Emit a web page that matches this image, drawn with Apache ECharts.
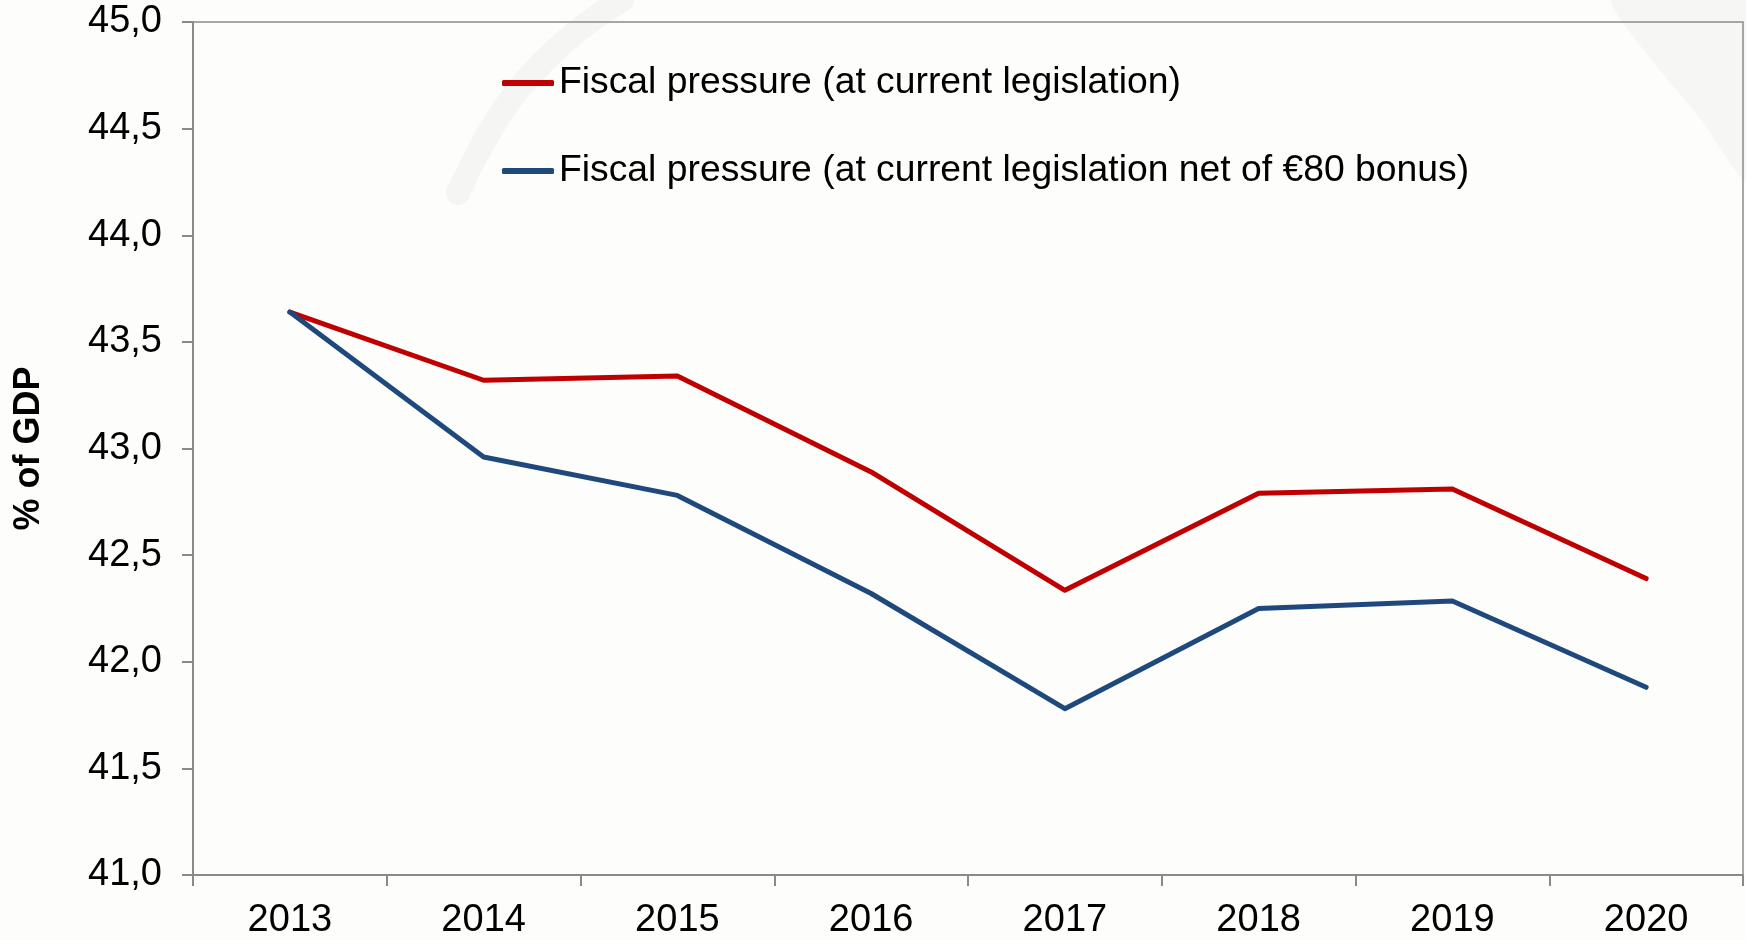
<!DOCTYPE html>
<html>
<head>
<meta charset="utf-8">
<script src="https://cdn.jsdelivr.net/npm/echarts@6/dist/echarts.min.js"></script>
<style>
html,body{margin:0;padding:0;background:#fdfdfc;}
#c{width:1746px;height:940px;}
</style>
</head>
<body>
<div id="c"></div>
<script>
const years = ['2013','2014','2015','2016','2017','2018','2019','2020'];
const fiscalPressure = [43.64, 43.32, 43.34, 42.89, 42.335, 42.79, 42.81, 42.39];
const fiscalPressureNet80 = [43.64, 42.96, 42.78, 42.32, 41.78, 42.25, 42.285, 41.88];
const seriesNames = ['Fiscal pressure (at current legislation)', 'Fiscal pressure (at current legislation net of €80 bonus)'];
const yTicks = { min: 41, max: 45, interval: 0.5 };

const chart = echarts.init(document.getElementById('c'), null, {renderer:'canvas'});
const font = 'Liberation Sans, Arial, sans-serif';
chart.setOption({
  backgroundColor: '#fdfdfc',
  animation: false,
  graphic: [
    { type: 'polyline', z: -10, silent: true,
      shape: { points: [[458,193],[482,145],[510,100],[545,60],[585,25],[622,0]], smooth: 0.4 },
      style: { stroke: '#f5f5f4', lineWidth: 24, lineCap: 'round', fill: null } },
    { type: 'polygon', z: -10, silent: true,
      shape: { points: [[1612,0],[1650,58],[1700,118],[1746,180],[1746,0]], smooth: 0.2 },
      style: { fill: '#f6f6f5' } }
  ],
  grid: { left: 193, right: 3, top: 22, bottom: 63, show: true, borderColor: '#8a8a8a', borderWidth: 1.5, backgroundColor: 'transparent' },
  legend: {
    orient: 'vertical', left: 497, top: 58,
    itemWidth: 52, itemHeight: 6, itemGap: 48,
    icon: 'roundRect',
    textStyle: { fontFamily: font, fontSize: 37.3, color: '#000', lineHeight: 40 },
    data: seriesNames
  },
  xAxis: {
    type: 'category', data: years, boundaryGap: true,
    axisLine: { lineStyle: { color: '#8a8a8a', width: 2 } },
    axisTick: { show: true, length: 11, lineStyle: { color: '#8a8a8a', width: 2 } },
    axisLabel: { fontFamily: font, fontSize: 38, color: '#000', margin: 27 },
    splitLine: { show: false }
  },
  yAxis: {
    type: 'value', min: yTicks.min, max: yTicks.max, interval: yTicks.interval,
    name: '% of GDP', nameLocation: 'middle', nameGap: 146,
    nameTextStyle: { fontFamily: font, fontSize: 36, fontWeight: 'bold', color: '#000' },
    axisLine: { show: true, lineStyle: { color: '#8a8a8a', width: 2 } },
    axisTick: { show: true, length: 11, lineStyle: { color: '#8a8a8a', width: 2 } },
    axisLabel: { fontFamily: font, fontSize: 38, color: '#000', margin: 31,
      formatter: v => v.toFixed(1).replace('.', ',') },
    splitLine: { show: false }
  },
  series: [
    { name: seriesNames[0], type: 'line', data: fiscalPressure, showSymbol: false, symbol: 'none',
      itemStyle: { color: '#C00000' }, lineStyle: { color: '#C00000', width: 5, cap: 'round', join: 'round' } },
    { name: seriesNames[1], type: 'line', data: fiscalPressureNet80, showSymbol: false, symbol: 'none',
      itemStyle: { color: '#1F497D' }, lineStyle: { color: '#1F497D', width: 5, cap: 'round', join: 'round' } }
  ]
});
</script>
</body>
</html>
